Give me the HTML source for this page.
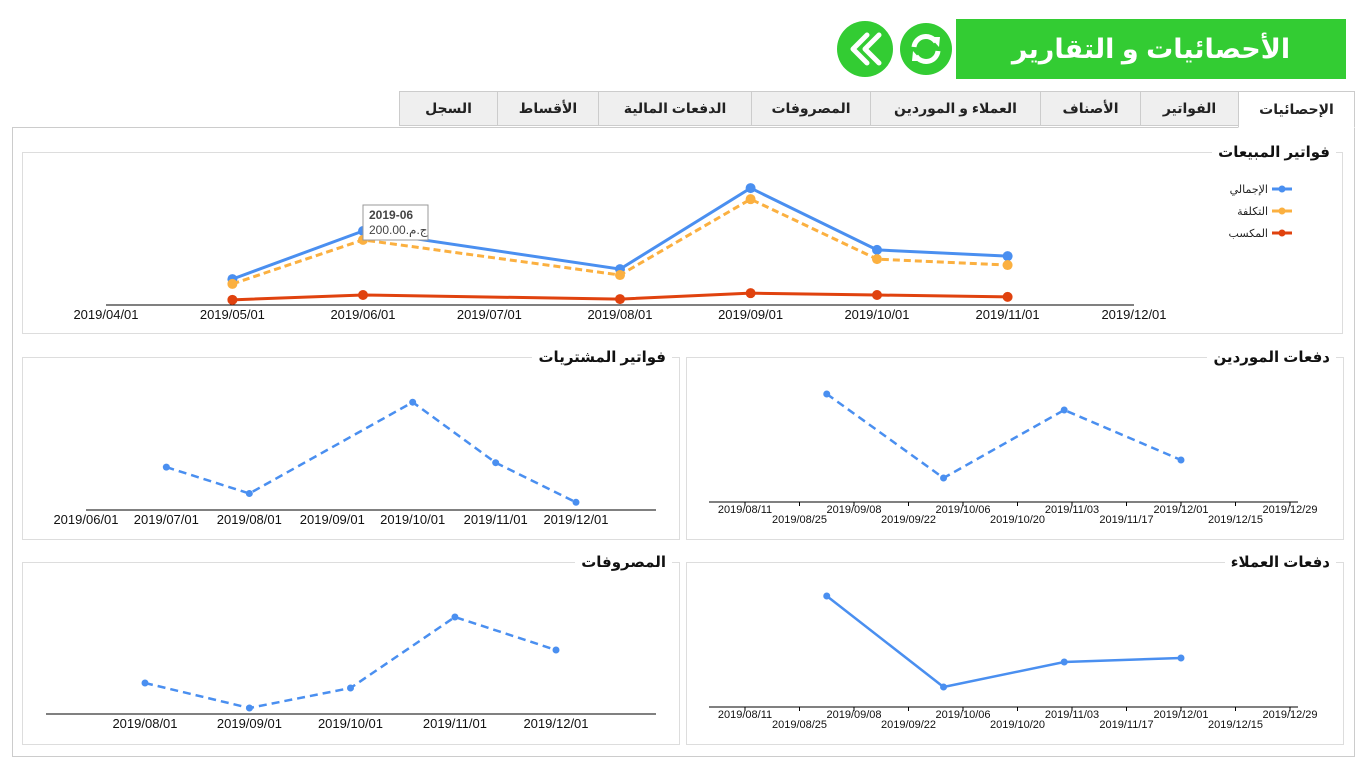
<!DOCTYPE html>
<html><head><meta charset="utf-8">
<style>
body{margin:0;width:1366px;height:768px;background:#fff;font-family:"Liberation Sans","DejaVu Sans",sans-serif;position:relative;overflow:hidden}
.abs{position:absolute}
.hdr{left:956px;top:19px;width:390px;height:60px;background:#33cc33;color:#fff;font-weight:bold;font-size:27px;display:flex;align-items:center;justify-content:center;direction:rtl}
.circ{border-radius:50%;background:#33cc33}
.tab{top:91px;height:35px;border:1px solid #ccc;background:#efefef;font-size:14px;font-weight:bold;display:flex;align-items:center;justify-content:center;box-sizing:border-box;direction:rtl;color:#222}
.tab.act{background:#fff;border-bottom:1px solid #fff;height:37px;z-index:2}
.outer{left:12px;top:127px;width:1343px;height:630px;border:1px solid #ccc;box-sizing:border-box}
.panel{border:1px solid #ddd;box-sizing:border-box}
.ptitle{background:#fff;font-weight:bold;font-size:15px;padding:0 6px;direction:rtl;color:#111}
svg{position:absolute;left:0;top:0}
</style></head><body>
<div class="abs hdr">الأحصائيات و التقارير</div>
<div class="abs circ" style="left:900px;top:23px;width:52px;height:52px">
<svg width="52" height="52" viewBox="0 0 52 52"><path d="M14 24 A12 12 0 0 1 36 19" stroke="#fff" stroke-width="5" fill="none"/><path d="M30 14 L40 14 L39 24 Z" fill="#fff"/><path d="M38 28 A12 12 0 0 1 16 33" stroke="#fff" stroke-width="5" fill="none"/><path d="M22 38 L12 38 L13 28 Z" fill="#fff"/></svg></div>
<div class="abs circ" style="left:837px;top:21px;width:56px;height:56px">
<svg width="56" height="56" viewBox="0 0 56 56"><path d="M30 14 L16 28 L30 42 M42 14 L28 28 L42 42" stroke="#fff" stroke-width="5" fill="none" stroke-linecap="round" stroke-linejoin="round"/></svg></div>

<div class="abs tab act" style="left:1238px;width:117px">الإحصائيات</div>
<div class="abs tab" style="left:1140px;width:99px">الفواتير</div>
<div class="abs tab" style="left:1040px;width:101px">الأصناف</div>
<div class="abs tab" style="left:870px;width:171px">العملاء و الموردين</div>
<div class="abs tab" style="left:751px;width:120px">المصروفات</div>
<div class="abs tab" style="left:598px;width:154px">الدفعات المالية</div>
<div class="abs tab" style="left:497px;width:102px">الأقساط</div>
<div class="abs tab" style="left:399px;width:99px">السجل</div>
<div class="abs outer"></div>

<div class="abs panel" style="left:22px;top:152px;width:1321px;height:182px"></div>
<div class="abs panel" style="left:22px;top:357px;width:658px;height:183px"></div>
<div class="abs panel" style="left:686px;top:357px;width:658px;height:183px"></div>
<div class="abs panel" style="left:22px;top:562px;width:658px;height:183px"></div>
<div class="abs panel" style="left:686px;top:562px;width:658px;height:183px"></div>

<svg id="chart" width="1366" height="768"></svg>

<div class="abs ptitle" style="right:30px;top:143px">فواتير المبيعات</div>
<div class="abs ptitle" style="right:694px;top:348px">فواتير المشتريات</div>
<div class="abs ptitle" style="right:30px;top:348px">دفعات الموردين</div>
<div class="abs ptitle" style="right:694px;top:553px">المصروفات</div>
<div class="abs ptitle" style="right:30px;top:553px">دفعات العملاء</div>

<script>
// Sales chart data
const salesDates = ["2019-05-01","2019-06-01","2019-08-01","2019-09-01","2019-10-01","2019-11-01"];
const salesTotal = [70,200,97,316,149,132];
const salesCost = [57,176,81,286,124,108];
const salesProfit = [14,27,16,32,27,22];
const salesTicks = ["2019/04/01","2019/05/01","2019/06/01","2019/07/01","2019/08/01","2019/09/01","2019/10/01","2019/11/01","2019/12/01"];
// Purchases
const purchDates = ["2019-07-01","2019-08-01","2019-10-01","2019-11-01","2019-12-01"];
const purchValues = [39,15,98,43,7];
const purchTicks = ["2019/06/01","2019/07/01","2019/08/01","2019/09/01","2019/10/01","2019/11/01","2019/12/01"];
// Expenses
const expDates = ["2019-08-01","2019-09-01","2019-10-01","2019-11-01","2019-12-01"];
const expValues = [31,6,26,97,64];
const expTicks = ["2019/08/01","2019/09/01","2019/10/01","2019/11/01","2019/12/01"];
// Supplier payments
const supDates = ["2019-09-01","2019-10-01","2019-11-01","2019-12-01"];
const supValues = [108,24,92,42];
// Customer payments
const custDates = ["2019-09-01","2019-10-01","2019-11-01","2019-12-01"];
const custValues = [111,20,45,49];
const weekTicks = ["2019/08/11","2019/08/25","2019/09/08","2019/09/22","2019/10/06","2019/10/20","2019/11/03","2019/11/17","2019/12/01","2019/12/15","2019/12/29"];

const NS="http://www.w3.org/2000/svg";
const svg=document.getElementById('chart');
function el(tag,attrs,parent){const e=document.createElementNS(NS,tag);for(const k in attrs)e.setAttribute(k,attrs[k]);(parent||svg).appendChild(e);return e;}
function day(s){return Date.parse(s.replace(/\//g,'-')+"T00:00:00Z")/86400000;}
function xScale(d0,x0,d1,x1){const a=day(d0),b=day(d1);return s=>x0+(day(s)-a)/(b-a)*(x1-x0);}
function yScale(base,pxPer){return v=>base-v*pxPer;}

function axis(name,x0,x1,y,ticks,xs,twoRow,fs){
  const l=el('line',{x1:x0,x2:x1,y1:y,y2:y,stroke:'#000','stroke-width':1});
  
  
  ticks.forEach((t,i)=>{
    const x=xs(t);
    if(twoRow){el('line',{x1:x,x2:x,y1:y,y2:y+4,stroke:'#000'});}
    const tx=el('text',{x:x,y:y+(twoRow?(i%2?21:11):14),'text-anchor':'middle','font-size':fs,fill:'#111','font-family':'Liberation Sans, sans-serif'});
    tx.textContent=t;
    
    
  });
}
function series(name,dates,vals,xs,ys,color,dash,r,w){
  const pts=dates.map((d,i)=>xs(d)+','+ys(vals[i])).join(' ');
  const p=el('polyline',{points:pts,fill:'none',stroke:color,'stroke-width':w,'stroke-dasharray':dash||'none'});
  
  
  dates.forEach((d,i)=>{
    const c=el('circle',{cx:xs(d),cy:ys(vals[i]),r:r,fill:color});
    
    
  });
}

// Sales
{const xs=xScale("2019-04-01",106,"2019-12-01",1134), ys=yScale(305,0.37);
axis('sales-x',106,1134,305,salesTicks,xs,false,13);
series('sales-total',salesDates,salesTotal,xs,ys,'#4a8ff0',null,5,3);
series('sales-cost',salesDates,salesCost,xs,ys,'#fbb040','7,4',5,3);
series('sales-profit',salesDates,salesProfit,xs,ys,'#e0420e',null,5,3);
const g=el('g',{});


el('rect',{x:363,y:205,width:65,height:35,fill:'#fff',stroke:'#999'},g);
const t1=el('text',{x:369,y:219,'font-size':12,'font-weight':'bold',fill:'#444'},g);t1.textContent=salesDates[1].slice(0,7);
const t2=el('text',{x:369,y:234,'font-size':12,fill:'#444'},g);t2.textContent='ج.م.'+salesTotal[1].toFixed(2);
const legCols=[['#4a8ff0','الإجمالي'],['#fbb040','التكلفة'],['#e0420e','المكسب']];
legCols.forEach((c,i)=>{const y=189+i*22;
  el('line',{x1:1272,x2:1292,y1:y,y2:y,stroke:c[0],'stroke-width':3});
  el('circle',{cx:1282,cy:y,r:3.5,fill:c[0]});
  const t=el('text',{x:1268,y:y+4,'text-anchor':'end','font-size':11,fill:'#222','font-family':'DejaVu Sans, sans-serif'});
  t.textContent=c[1];
  
  
});}
// Purchases
{const xs=xScale("2019-06-01",86,"2019-12-01",576), ys=yScale(510,1.1);
axis('purchases-x',86,656,510,purchTicks,xs,false,13);
series('purchases',purchDates,purchValues,xs,ys,'#4a8ff0','8,5',3.5,2.5);}
// Expenses
{const xs=xScale("2019-08-01",145,"2019-12-01",556), ys=yScale(714,1);
axis('expenses-x',46,656,714,expTicks,xs,false,13);
series('expenses',expDates,expValues,xs,ys,'#4a8ff0','8,5',3.5,2.5);}
// Supplier payments
{const xs=xScale("2019/08/11",745,"2019/12/29",1290), ys=yScale(502,1);
axis('supplier-x',709,1298,502,weekTicks,xs,true,11);
series('supplier-payments',supDates,supValues,xs,ys,'#4a8ff0','8,5',3.5,2.5);}
// Customer payments
{const xs=xScale("2019/08/11",745,"2019/12/29",1290), ys=yScale(707,1);
axis('customer-x',709,1298,707,weekTicks,xs,true,11);
series('customer-payments',custDates,custValues,xs,ys,'#4a8ff0',null,3.5,2.5);}
</script>
</body></html>
